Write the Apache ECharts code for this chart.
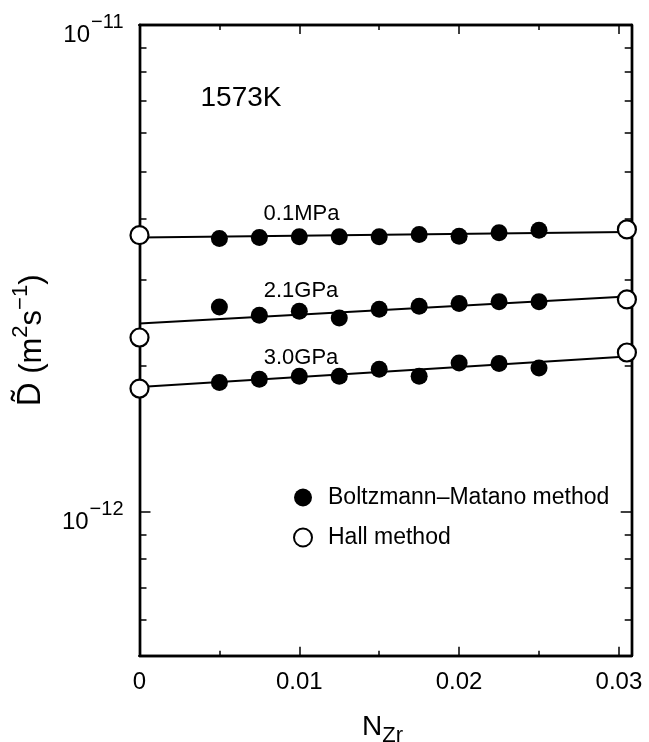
<!DOCTYPE html>
<html>
<head>
<meta charset="utf-8">
<title>Interdiffusion coefficient vs N_Zr, 1573K</title>
<script src="https://cdn.jsdelivr.net/npm/echarts@6/dist/echarts.min.js"></script>
<style>
  html, body { margin: 0; padding: 0; background: #fff; }
  #chart { width: 649px; height: 742px; }
</style>
</head>
<body>
<div id="chart"></div>
<script>
// Boltzmann-Matano points (N_Zr)
const bmX = [0.005, 0.0075, 0.01, 0.0125, 0.015, 0.0175, 0.02, 0.0225, 0.025]
const bm01MPa = [3.645e-12, 3.663e-12, 3.673e-12, 3.673e-12, 3.673e-12, 3.715e-12, 3.685e-12, 3.743e-12, 3.791e-12]
const bm21GPa = [2.637e-12, 2.535e-12, 2.584e-12, 2.503e-12, 2.608e-12, 2.646e-12, 2.681e-12, 2.701e-12, 2.701e-12]
const bm30GPa = [1.845e-12, 1.874e-12, 1.901e-12, 1.901e-12, 1.964e-12, 1.901e-12, 2.023e-12, 2.018e-12, 1.976e-12]

// Hall method, both ends of the couple
const hallX = [0, 0.0305]
const hall01MPa = [3.703e-12, 3.804e-12]
const hall21GPa = [2.282e-12, 2.732e-12]
const hall30GPa = [1.793e-12, 2.126e-12]

// fitted lines
const fitX = [0, 0.0305]
const fit01MPa = [3.663e-12, 3.76e-12]
const fit21GPa = [2.438e-12, 2.771e-12]
const fit30GPa = [1.807e-12, 2.086e-12]

const pressureLabels = ['0.1MPa', '2.1GPa', '3.0GPa']
const temperatureLabel = '1573K'
const legendNames = ['Boltzmann\u2013Matano method', 'Hall method']

const xLabelValues = [0, 0.01, 0.02, 0.03]
const xMajorTicks = [0.01, 0.02, 0.03]
const xMinorTicks = [0.005, 0.015, 0.025]
const yLabelValues = [1e-12, 1e-11]
const yMinorTicks = [6e-13, 7e-13, 8e-13, 9e-13, 2e-12, 3e-12, 4e-12, 5e-12, 6e-12, 7e-12, 8e-12, 9e-12]

const FONT = '"Liberation Sans", Arial, sans-serif'
const chart = echarts.init(document.getElementById('chart'))

const pairs = (xs, ys) => xs.map((x, i) => [x, ys[i]])

// grid 0 carries the data and the long ticks, grid 1 (same box) only the short ticks
const gridBox = { left: 139.5, right: 17.3, top: 25, bottom: 86.3, containLabel: false, outerBoundsMode: 'none' }

const xAxisOf = (gridIndex, position, ticks, len, withLabels) => ({
  type: 'value',
  gridIndex,
  position,
  min: 0,
  max: 0.0308,
  axisLine: { show: true, onZero: false, lineStyle: { color: '#000', width: 2.4 } },
  axisTick: { show: true, inside: true, length: len, customValues: ticks, lineStyle: { color: '#000', width: 1.5 } },
  axisLabel: withLabels ? {
    show: true,
    customValues: xLabelValues,
    margin: 15,
    color: '#000',
    fontSize: 24,
    fontFamily: FONT,
    formatter: v => (v === 0 ? '0' : v.toFixed(2))
  } : { show: false },
  splitLine: { show: false }
})

const yAxisOf = (gridIndex, position, ticks, len, withLabels) => ({
  type: 'log',
  logBase: 10,
  gridIndex,
  position,
  min: 5.07e-13,
  max: 1e-11,
  axisLine: { show: true, onZero: false, lineStyle: { color: '#000', width: 2.4 } },
  axisTick: { show: true, inside: true, length: len, customValues: ticks, lineStyle: { color: '#000', width: 1.5 } },
  axisLabel: withLabels ? {
    show: true,
    customValues: yLabelValues,
    margin: 16,
    padding: [20, 0, 0, 0],
    formatter: v => '{b|10}{s|\u2212' + Math.round(-Math.log10(v)) + '}',
    rich: {
      b: { fontSize: 24, fontFamily: FONT, color: '#000', verticalAlign: 'bottom', lineHeight: 24 },
      s: { fontSize: 20, fontFamily: FONT, color: '#000', verticalAlign: 'bottom', lineHeight: 20, padding: [0, 0, 15, 1] }
    }
  } : { show: false },
  splitLine: { show: false }
})

const xAxes = [
  xAxisOf(0, 'bottom', xMajorTicks, 9, true),
  xAxisOf(0, 'top', xMajorTicks, 9, false),
  xAxisOf(1, 'bottom', xMinorTicks, 5, false),
  xAxisOf(1, 'top', xMinorTicks, 5, false)
]
xAxes[0].name = '{b|N}{sub|Zr}'
xAxes[0].nameLocation = 'middle'
xAxes[0].nameGap = 58
xAxes[0].nameTextStyle = {
  padding: [0, 6, 0, 0],
  rich: {
    b: { fontSize: 28, fontFamily: FONT, color: '#000', verticalAlign: 'top', lineHeight: 28 },
    sub: { fontSize: 22, fontFamily: FONT, color: '#000', verticalAlign: 'top', lineHeight: 22, padding: [11, 0, 0, 0] }
  }
}

const yAxes = [
  yAxisOf(0, 'left', yLabelValues, 11, true),
  yAxisOf(0, 'right', yLabelValues, 11, false),
  yAxisOf(1, 'left', yMinorTicks, 7, false),
  yAxisOf(1, 'right', yMinorTicks, 7, false)
]
yAxes[0].name = '{d|D\u0303}{p| (m}{s|2}{p|s}{s|\u22121}{p|)}'
yAxes[0].nameLocation = 'middle'
yAxes[0].nameRotate = 90
yAxes[0].nameGap = 92
yAxes[0].nameTextStyle = {
  rich: {
    d: { fontSize: 33, fontFamily: FONT, color: '#000', verticalAlign: 'bottom', lineHeight: 37 },
    p: { fontSize: 31, fontFamily: FONT, color: '#000', verticalAlign: 'bottom', lineHeight: 35 },
    s: { fontSize: 22, fontFamily: FONT, color: '#000', verticalAlign: 'bottom', lineHeight: 22, padding: [0, 0, 16, 0] }
  }
}

const fitLine = ys => ({
  type: 'line',
  data: pairs(fitX, ys),
  symbol: 'none',
  silent: true,
  z: 1,
  lineStyle: { color: '#000', width: 2 }
})

const bmSeries = ys => ({
  name: legendNames[0],
  type: 'scatter',
  data: pairs(bmX, ys),
  symbol: 'circle',
  symbolSize: 17,
  z: 3,
  itemStyle: { color: '#000', opacity: 1 }
})

const hallSeries = ys => ({
  name: legendNames[1],
  type: 'scatter',
  data: pairs(hallX, ys),
  symbol: 'circle',
  symbolSize: 18,
  z: 4,
  itemStyle: { color: '#fff', borderColor: '#000', borderWidth: 2.2, opacity: 1 }
})

const textAt = (text, x, y, size) => ({
  type: 'text',
  x, y,
  style: { text, fill: '#000', font: size + 'px ' + FONT, align: 'center', verticalAlign: 'middle' }
})

chart.setOption({
  animation: false,
  backgroundColor: '#fff',
  grid: [gridBox, gridBox],
  xAxis: xAxes,
  yAxis: yAxes,
  legend: {
    data: legendNames,
    orient: 'vertical',
    left: 293,
    top: 486,
    padding: 0,
    icon: 'circle',
    itemWidth: 18,
    itemHeight: 18,
    itemGap: 17,
    selectedMode: false,
    textStyle: { fontSize: 23, fontFamily: FONT, color: '#000', padding: [0, 0, 0, 11] }
  },
  graphic: [
    textAt(temperatureLabel, 241, 98, 28),
    textAt(pressureLabels[0], 301.5, 213.5, 22),
    textAt(pressureLabels[1], 301, 291, 22),
    textAt(pressureLabels[2], 301, 357.5, 22)
  ],
  series: [
    fitLine(fit01MPa), fitLine(fit21GPa), fitLine(fit30GPa),
    bmSeries(bm01MPa), bmSeries(bm21GPa), bmSeries(bm30GPa),
    hallSeries(hall01MPa), hallSeries(hall21GPa), hallSeries(hall30GPa)
  ]
})
</script>
</body>
</html>
